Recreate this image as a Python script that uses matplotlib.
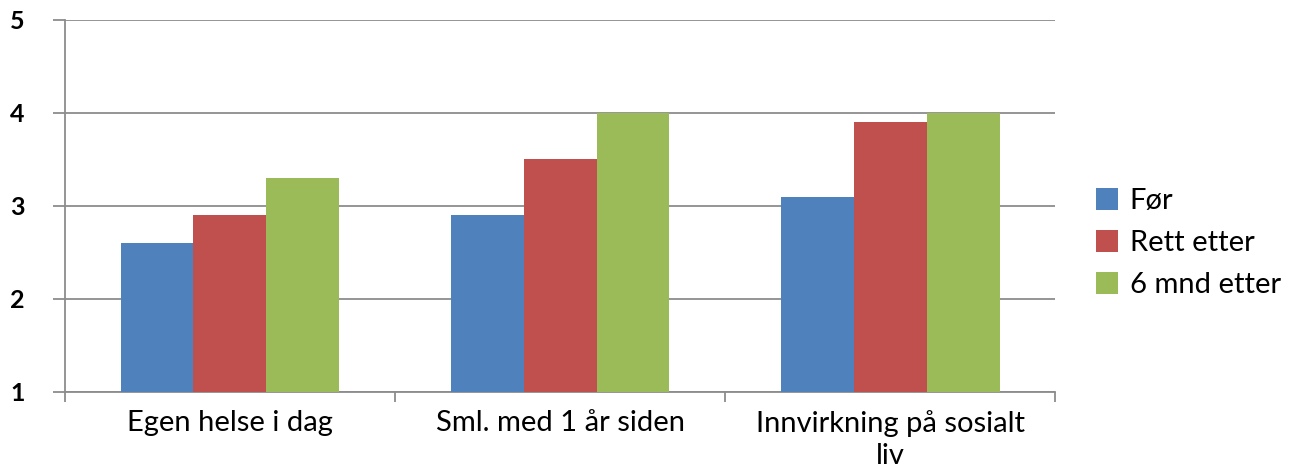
import numpy as np
import matplotlib.pyplot as plt
from matplotlib.ticker import FixedLocator

categories = ['Egen helse i dag', 'Sml. med 1 år siden', 'Innvirkning på sosialt\nliv']
series_names = ['Før', 'Rett etter', '6 mnd etter']
for_values = [2.6, 2.9, 3.1]
rett_etter = [2.9, 3.5, 3.9]
seks_mnd = [3.3, 4.0, 4.0]
colors = ['#4F81BD', '#C0504D', '#9BBB59']

plt.rcParams['font.family'] = ['Lato', 'DejaVu Sans']

fig = plt.figure(figsize=(12.91, 4.74), dpi=100)
ax = fig.add_axes([0.0503, 0.173, 0.767, 0.785])

x = np.arange(len(categories))
width = 0.221
base = 1
for i, (vals, name, c) in enumerate(zip([for_values, rett_etter, seks_mnd], series_names, colors)):
    heights = np.array(vals) - base
    ax.bar(x + (i - 1) * width, heights, width, bottom=base, color=c, label=name, zorder=3)

ax.set_xlim(-0.5, len(categories) - 0.5)
ax.set_ylim(1, 5)
ax.set_yticks([1, 2, 3, 4, 5])
ax.set_yticklabels(['1', '2', '3', '4', '5'], fontsize=18, fontweight='bold')
ax.grid(axis='y', color='#8c8c8c', linewidth=1.3, zorder=0)

ax.set_xticks(x)
ax.set_xticklabels(categories, fontsize=21, linespacing=1.3)
ax.tick_params(axis='x', length=0, pad=13)
ax.xaxis.set_minor_locator(FixedLocator([-0.5, 0.5, 1.5, 2.5]))
ax.tick_params(axis='x', which='minor', length=7, color='#8c8c8c', width=1.3)
ax.tick_params(axis='y', length=9, color='#8c8c8c', width=1.3, pad=20)

for side in ['top', 'right']:
    ax.spines[side].set_visible(False)
for side in ['left', 'bottom']:
    ax.spines[side].set_color('#8c8c8c')
    ax.spines[side].set_linewidth(1.3)

ax.legend(loc='center left', bbox_to_anchor=(1.015, 0.4), frameon=False,
          fontsize=21, handlelength=0.75, handleheight=0.75, labelspacing=0.55,
          handletextpad=0.4)

fig.savefig('out.png', dpi=100)
